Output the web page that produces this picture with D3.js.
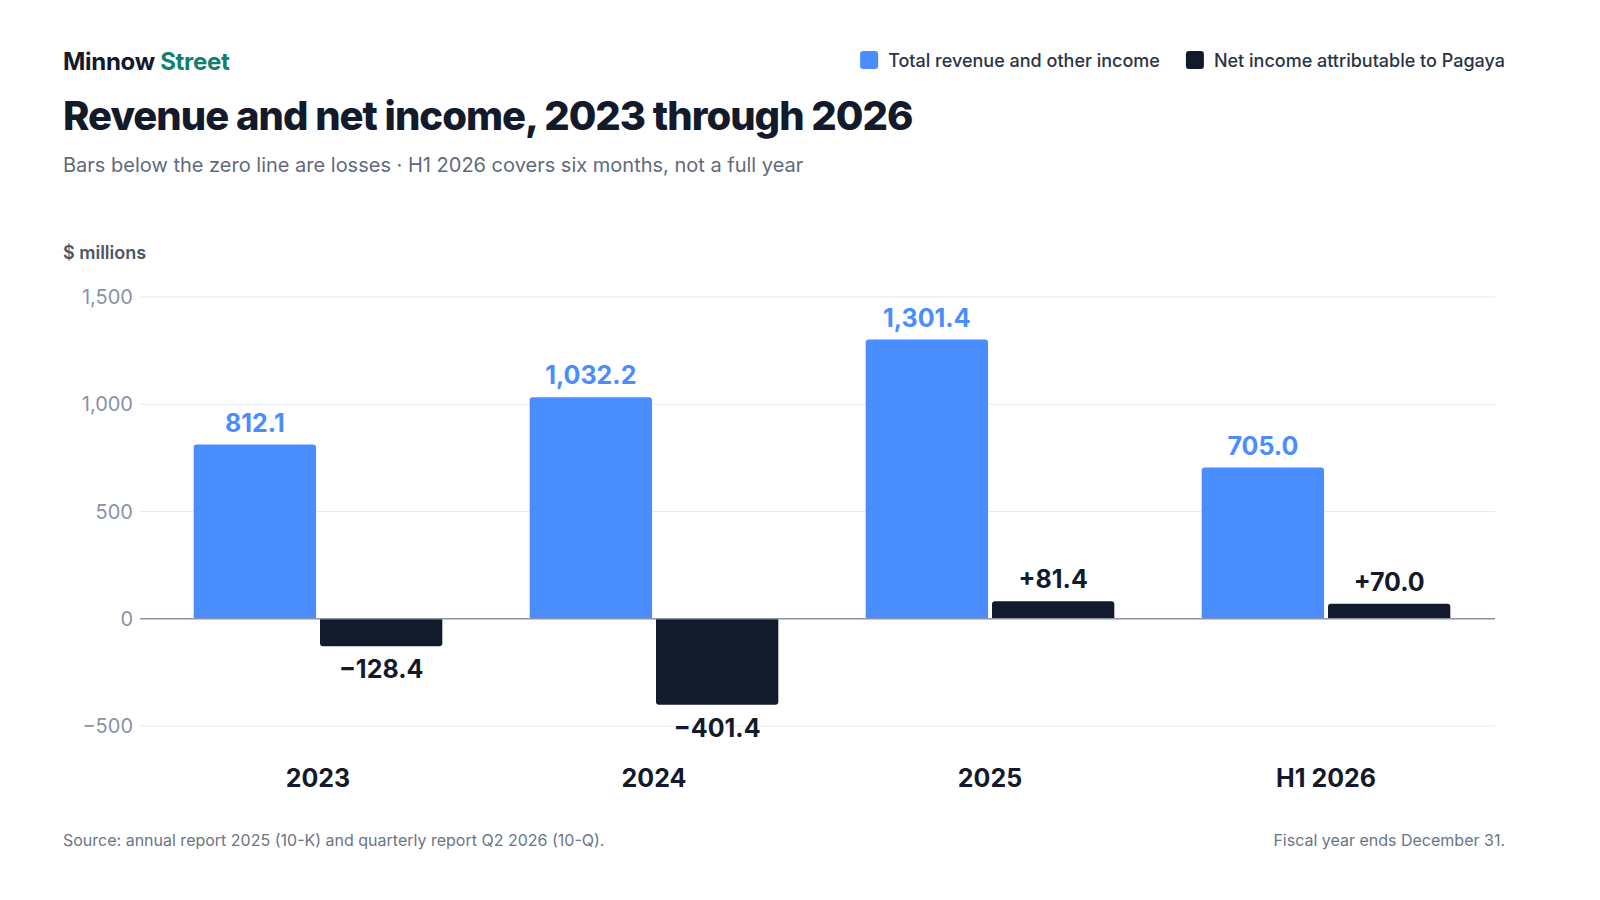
<!DOCTYPE html>
<html><head><meta charset="utf-8">
<script src="https://cdn.jsdelivr.net/npm/d3@7"></script>
<style>body{margin:0;background:#fff;font-family:Inter,"Noto Sans",sans-serif}</style>
</head><body><svg id="c" width="1600" height="900"></svg>
<script>
const categories=["2023","2024","2025","H1 2026"];
const revenue=[812.1,1032.2,1301.4,705.0];
const netIncome=[-128.4,-401.4,81.4,70.0];
const yTicks=[-500,0,500,1000,1500];
const seriesNames=["Total revenue and other income","Net income attributable to Pagaya"];
const colors=["#4a8dff","#121a2b"];

const svg=d3.select("#c");
const x=d3.scaleBand().domain(categories).range([150,1494]).paddingInner(0.26).paddingOuter(0.13);
const y=d3.scaleLinear().domain([-500,1500]).range([726,297]);
const bw=x.bandwidth()/2;

const b=svg.append("text").attr("x",63).attr("y",70).attr("font-size",24).attr("font-weight",700).attr("letter-spacing",-0.3);
b.append("tspan").attr("fill","#121a2b").text("Minnow ");
b.append("tspan").attr("fill","#12806e").text("Street");
svg.append("text").attr("x",63).attr("y",130).attr("font-size",40).attr("font-weight",800).attr("fill","#121a2b").attr("letter-spacing",-1).text("Revenue and net income, 2023 through 2026");
svg.append("text").attr("x",63).attr("y",172).attr("font-size",20).attr("fill","#5f6b7d").text("Bars below the zero line are losses · H1 2026 covers six months, not a full year");
svg.append("text").attr("x",63).attr("y",259).attr("font-size",18).attr("font-weight",600).attr("fill","#4b5566").text("$ millions");

const lg=svg.append("g");
const t2=lg.append("text").attr("x",1505).attr("y",67).attr("text-anchor","end").attr("font-size",18).attr("font-weight",500).attr("fill","#2b3445").text(seriesNames[1]);
const w2=t2.node().getComputedTextLength();
lg.append("rect").attr("x",1505-w2-28).attr("y",51).attr("width",18).attr("height",18).attr("rx",3).attr("fill",colors[1]);
const x1end=1505-w2-28-26;
const t1=lg.append("text").attr("x",x1end).attr("y",67).attr("text-anchor","end").attr("font-size",18).attr("font-weight",500).attr("fill","#2b3445").text(seriesNames[0]);
const w1=t1.node().getComputedTextLength();
lg.append("rect").attr("x",x1end-w1-28).attr("y",51).attr("width",18).attr("height",18).attr("rx",3).attr("fill",colors[0]);

svg.append("g").selectAll("line").data(yTicks.filter(d=>d!==0)).join("line")
 .attr("x1",140).attr("x2",1495).attr("y1",d=>y(d)).attr("y2",d=>y(d)).attr("stroke","#e7e9ee");
svg.append("g").selectAll("text").data(yTicks).join("text")
 .attr("x",133).attr("y",d=>y(d)+7).attr("text-anchor","end").attr("font-size",20).attr("fill","#8a93a3")
 .text(d=>d<0?"−"+d3.format(",")(-d):d3.format(",")(d));

function bar(g,vals,off,color){
  g.selectAll("path.b"+off).data(vals).join("path").attr("fill",color)
   .attr("d",(v,i)=>{
     const x0=x(categories[i])+off*(bw+2), w=bw-2, r=3;
     const y0=y(0), y1=y(v);
     if(v>=0) return `M${x0},${y0}V${y1+r}Q${x0},${y1} ${x0+r},${y1}H${x0+w-r}Q${x0+w},${y1} ${x0+w},${y1+r}V${y0}Z`;
     return `M${x0},${y0}V${y1-r}Q${x0},${y1} ${x0+r},${y1}H${x0+w-r}Q${x0+w},${y1} ${x0+w},${y1-r}V${y0}Z`;
   });
  g.selectAll("text.l"+off).data(vals).join("text")
   .attr("x",(v,i)=>x(categories[i])+off*(bw+2)+(bw-2)/2)
   .attr("y",v=>v>=0?y(v)-13:y(v)+32)
   .attr("text-anchor","middle").attr("font-size",25).attr("font-weight",700).attr("fill",off===0?colors[0]:colors[1])
   .text(v=>off===0?d3.format(",.1f")(v):(v<0?"−"+d3.format(",.1f")(-v):"+"+d3.format(",.1f")(v)));
}
const g=svg.append("g");
bar(g,revenue,0,colors[0]);
bar(g,netIncome,1,colors[1]);
svg.append("line").attr("x1",140).attr("x2",1495).attr("y1",y(0)).attr("y2",y(0)).attr("stroke","#8a93a3").attr("stroke-width",1.5);

svg.append("g").selectAll("text").data(categories).join("text")
 .attr("x",d=>x(d)+x.bandwidth()/2).attr("y",787).attr("text-anchor","middle").attr("font-size",25).attr("font-weight",700).attr("fill","#121a2b").text(d=>d);

svg.append("text").attr("x",63).attr("y",846).attr("font-size",16).attr("fill","#6b7585").text("Source: annual report 2025 (10-K) and quarterly report Q2 2026 (10-Q).");
svg.append("text").attr("x",1505).attr("y",846).attr("text-anchor","end").attr("font-size",16).attr("fill","#6b7585").text("Fiscal year ends December 31.");
</script></body></html>
